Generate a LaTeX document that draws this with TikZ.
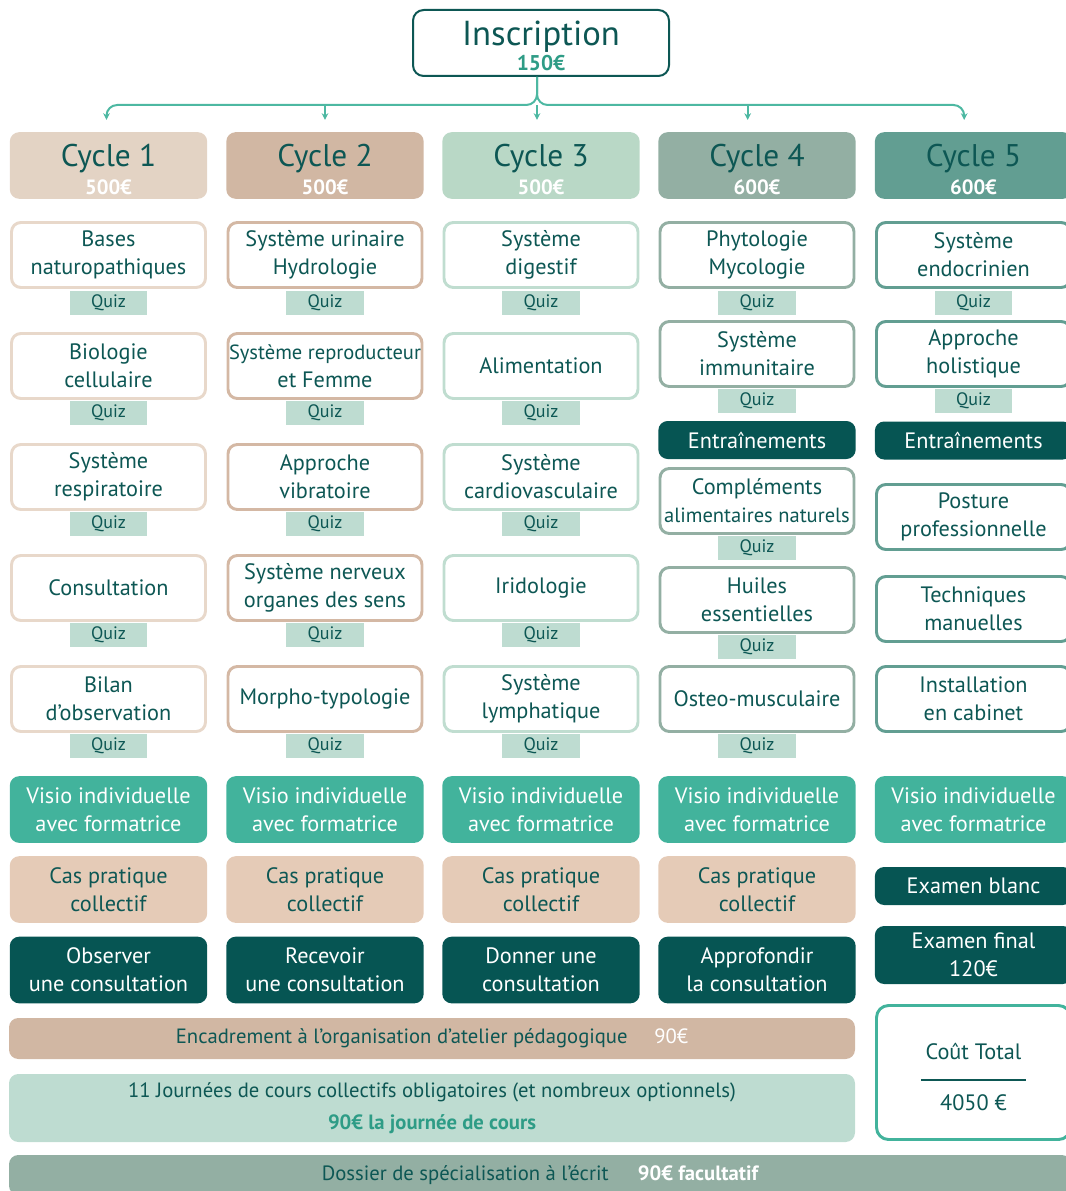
\documentclass[tikz,border=0pt]{standalone}
\usepackage{fontspec}
\setmainfont{PT Sans}
\usetikzlibrary{arrows.meta}
\definecolor{ink}{HTML}{0D5754}
\definecolor{teal}{HTML}{2E9C86}
\definecolor{mint}{HTML}{BEDCD1}
\definecolor{line}{HTML}{4DB8A2}
\definecolor{hd1}{HTML}{E3D3C4}
\definecolor{hd2}{HTML}{D1B7A3}
\definecolor{hd3}{HTML}{B9D8C6}
\definecolor{hd4}{HTML}{93AFA3}
\definecolor{hd5}{HTML}{629E92}
\definecolor{bd1}{HTML}{E8D8CA}
\definecolor{bd2}{HTML}{D4B8A4}
\definecolor{bd3}{HTML}{C0DDD0}
\definecolor{visio}{HTML}{42B39C}
\definecolor{cas}{HTML}{E5CBB7}
\definecolor{deep}{HTML}{065553}
\tikzset{
  item/.style={draw, line width=2.2pt, rounded corners=7pt, fill=white, text=ink, align=center,
    minimum width=145.5pt, minimum height=48.75pt, inner sep=0pt, font=\fontsize{16.7}{21}\selectfont},
  quiz/.style={fill=mint, text=ink, minimum width=58pt, minimum height=18pt, inner sep=0pt,
    font=\fontsize{13.5}{13.5}\selectfont},
  head/.style={rounded corners=7pt, text=ink, align=center, minimum width=148pt, minimum height=50pt, inner sep=0pt},
  tile/.style={rounded corners=7pt, align=center, minimum width=148pt, minimum height=50pt, inner sep=0pt,
    font=\fontsize{16.7}{21}\selectfont},
  visiobox/.style={tile, fill=visio, text=white},
  casbox/.style={tile, fill=cas, text=ink},
  darkbox/.style={tile, fill=deep, text=white},
  bar/.style={rounded corners=7pt, inner sep=0pt, align=center, text=ink, font=\fontsize{15.5}{24}\selectfont},
  link/.style={draw=line, line width=1.5pt, rounded corners=8pt, -{Stealth[length=5pt,width=5pt]}, shorten >=9pt}
}
\newcommand{\cyc}[2]{\rule{0pt}{23pt}{\fontsize{23.5}{23.5}\selectfont Cycle #1}\\[4pt]{\fontsize{15.5}{15.5}\selectfont\bfseries\color{white}#2}}
\newcommand{\tight}[1]{{\fontsize{15.4}{21}\selectfont #1}}
\begin{document}
\begin{tikzpicture}[x=0.75pt,y=-0.75pt]
  \useasboundingbox (0,0) rectangle (1066,1191);
  \node[draw=ink, line width=1.5pt, rounded corners=8pt, fill=white, text=ink, align=center,
    minimum width=192pt, minimum height=49.5pt, inner sep=0pt] (ins) at (541,43)
    {\rule{0pt}{23pt}{\fontsize{26}{26}\selectfont Inscription}\\[1pt]{\fontsize{16}{16}\selectfont\bfseries\color{teal}150€}};

  \node[head, fill=hd1] (cyc1) at (108.5,165.5) {\cyc{1}{500€}};
  \node[head, fill=hd2] (cyc2) at (325,165.5) {\cyc{2}{500€}};
  \node[head, fill=hd3] (cyc3) at (541,165.5) {\cyc{3}{500€}};
  \node[head, fill=hd4] (cyc4) at (757,165.5) {\cyc{4}{600€}};
  \node[head, fill=hd5] (cyc5) at (973.5,165.5) {\cyc{5}{600€}};

  \coordinate (top) at (537,77);
  \coordinate (bus) at (537,105);
  \begin{scope}
    \draw[link] (top) -- (bus) -| ([xshift=-1.5pt]cyc1.north);
    \draw[link] (top) -- (bus) -| ([xshift=-7pt]cyc5.north);
    \draw[link] (cyc2.north |- bus) -- (cyc2.north);
    \draw[link] (bus) -- (bus |- cyc3.north);
    \draw[link] ([xshift=-7pt]cyc4.north |- bus) -- ([xshift=-7pt]cyc4.north);
  \end{scope}

  \node[item, draw=bd1] (b11) at (108.5,255) {Bases\\naturopathiques};
  \node[item, draw=bd1] (b12) at (108.5,366) {Biologie\\cellulaire};
  \node[item, draw=bd1] (b13) at (108.5,477) {Système\\respiratoire};
  \node[item, draw=bd1] (b14) at (108.5,588) {Consultation};
  \node[item, draw=bd1] (b15) at (108.5,699) {Bilan\\d’observation};

  \node[item, draw=bd2] (b21) at (325,255) {Système urinaire\\Hydrologie};
  \node[item, draw=bd2] (b22) at (325,366) {\tight{Système reproducteur}\\et Femme};
  \node[item, draw=bd2] (b23) at (325,477) {Approche\\vibratoire};
  \node[item, draw=bd2] (b24) at (325,588) {Système nerveux\\organes des sens};
  \node[item, draw=bd2] (b25) at (325,699) {Morpho-typologie};

  \node[item, draw=bd3] (b31) at (541,255) {Système\\digestif};
  \node[item, draw=bd3] (b32) at (541,366) {Alimentation};
  \node[item, draw=bd3] (b33) at (541,477) {Système\\cardiovasculaire};
  \node[item, draw=bd3] (b34) at (541,588) {Iridologie};
  \node[item, draw=bd3] (b35) at (541,699) {Système\\lymphatique};

  \foreach \c/\x in {1/108.5,2/325,3/541}
    \foreach \r/\y in {1/303,2/412.5,3/523.5,4/634.5,5/745.5}
      \node[quiz] (q\c\r) at (\x,\y) {Quiz};

  \node[item, draw=hd4] (b41) at (757,255) {Phytologie\\Mycologie};
  \node[item, draw=hd4] (b42) at (757,354) {Système\\immunitaire};
  \node[darkbox, minimum height=28.5pt] (tr4) at (757,440) {Entraînements};
  \node[item, draw=hd4] (b43) at (757,501) {Compléments\\\tight{alimentaires naturels}};
  \node[item, draw=hd4] (b44) at (757,600) {Huiles\\essentielles};
  \node[item, draw=hd4] (b45) at (757,699) {Osteo-musculaire};
  \foreach \r/\y in {1/303,2/401,3/547.5,4/646.5,5/745.5}
    \node[quiz] (q4\r) at (757,\y) {Quiz};

  \node[item, draw=hd5] (b51) at (973.5,255) {Système\\endocrinien};
  \node[item, draw=hd5] (b52) at (973.5,354) {Approche\\holistique};
  \node[darkbox, minimum height=28.5pt] (tr5) at (973.5,440.5) {Entraînements};
  \node[item, draw=hd5] (b53) at (973.5,517) {Posture\\professionnelle};
  \node[item, draw=hd5] (b54) at (973.5,609) {Techniques\\manuelles};
  \node[item, draw=hd5] (b55) at (973.5,699) {Installation\\en cabinet};
  \foreach \r/\y in {1/303,2/401}
    \node[quiz] (q5\r) at (973.5,\y) {Quiz};

  \foreach \c/\x in {1/108.5,2/325,3/541,4/757,5/973.5}
    \node[visiobox] (vis\c) at (\x,809.5) {Visio individuelle\\avec formatrice};
  \foreach \c/\x in {1/108.5,2/325,3/541,4/757}
    \node[casbox] (cas\c) at (\x,889.5) {Cas pratique\\collectif};

  \node[darkbox] (con1) at (108.5,970) {Observer\\une consultation};
  \node[darkbox] (con2) at (325,970) {Recevoir\\une consultation};
  \node[darkbox] (con3) at (541,970) {Donner une\\consultation};
  \node[darkbox] (con4) at (757,970) {Approfondir\\la consultation};

  \node[darkbox, minimum height=28.5pt] (exb) at (973.5,886) {Examen blanc};
  \node[darkbox, minimum height=43.5pt] (exf) at (973.5,955) {Examen final\\120€};
  \node[draw=visio, line width=2.2pt, rounded corners=9pt, fill=white, text=ink, align=center,
    minimum width=145.5pt, minimum height=100.5pt, inner sep=0pt, font=\fontsize{16.7}{21}\selectfont]
    (tot) at (973.5,1072.5) {\rule{0pt}{19pt}Coût Total\\[-5pt]{\color{ink}\rule{79pt}{1.4pt}}\\[1pt]4050 €};

  \node[bar, fill=hd2, minimum width=634.5pt, minimum height=30.75pt] (enc) at (432,1038.5)
    {Encadrement à l’organisation d’atelier pédagogique\hspace{20pt}{\color{white}90€}};
  \node[bar, fill=mint, minimum width=634.5pt, minimum height=51pt] (jour) at (432,1108)
    {11 Journées de cours collectifs obligatoires (et nombreux optionnels)\\{\color{teal}\bfseries 90€ la journée de cours}};
  \node[bar, fill=hd4, minimum width=796.5pt, minimum height=30pt] (dos) at (540,1175)
    {Dossier de spécialisation à l’écrit\hspace{22pt}{\color{white}\bfseries 90€ facultatif}};
\end{tikzpicture}
\end{document}
